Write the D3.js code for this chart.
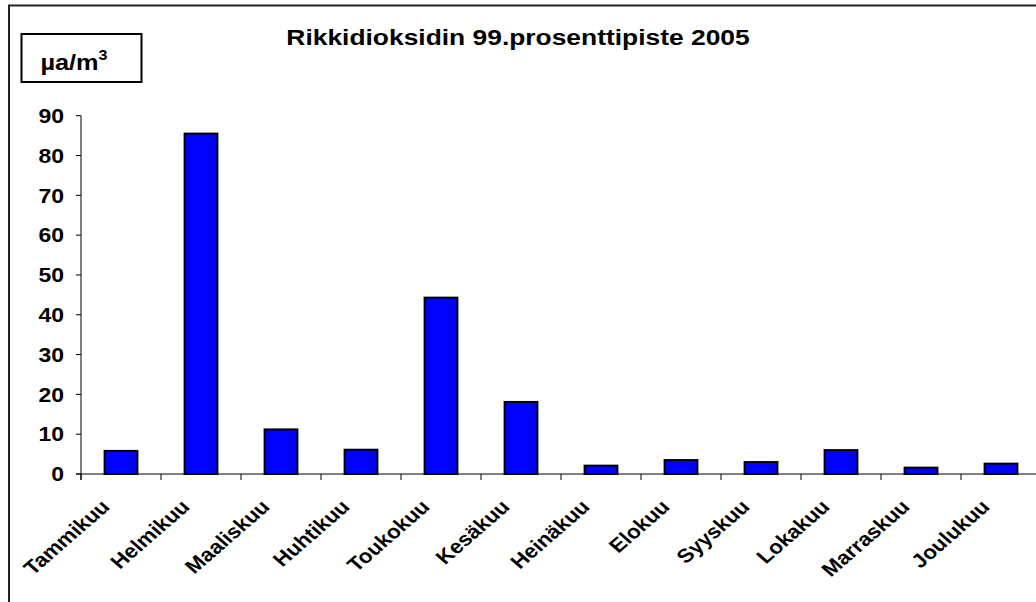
<!DOCTYPE html>
<html><head><meta charset="utf-8">
<script src="https://cdn.jsdelivr.net/npm/d3@7"></script>
<style>
body{margin:0;background:#fff}
text{font-family:Arial,"Liberation Sans",sans-serif;font-weight:bold;fill:#000}
</style>
</head><body>
<svg id="c" width="1036" height="602"></svg>
<script>
const months = ["Tammikuu","Helmikuu","Maaliskuu","Huhtikuu","Toukokuu","Kesäkuu","Heinäkuu","Elokuu","Syyskuu","Lokakuu","Marraskuu","Joulukuu"];
const values = [5.8, 85.5, 11.2, 6.1, 44.3, 18.1, 2.1, 3.5, 3.0, 6.0, 1.6, 2.6];
const yTicks = [0,10,20,30,40,50,60,70,80,90];
const title = "Rikkidioksidin 99.prosenttipiste 2005";
const unitText = "µa/m";
const unitSup = "3";

const svg = d3.select("#c");
svg.append("rect").attr("width",1036).attr("height",602).attr("fill","#fff");
svg.append("rect").attr("x",9).attr("y",5.5).attr("width",1100).attr("height",700)
  .attr("fill","none").attr("stroke","#222").attr("stroke-width",2);

const y = d3.scaleLinear().domain([0,90]).range([474,115.7]);
const x = d3.scaleBand().domain(months).range([81,1041]).padding(0);
const xb = d3.scaleBand().domain(months).range([81,1041]).paddingInner(0.59).paddingOuter(0.295);

svg.append("text").attr("transform",`translate(518,45) scale(1.2,1)`)
  .attr("text-anchor","middle").attr("font-size",22).text(title);

svg.append("rect").attr("x",21.5).attr("y",34).attr("width",120).attr("height",48)
  .attr("fill","#fff").attr("stroke","#000").attr("stroke-width",2);
const ut = svg.append("text").attr("transform",`translate(74,70) scale(1.15,1)`)
  .attr("text-anchor","middle").attr("font-size",22);
ut.append("tspan").text(unitText);
ut.append("tspan").attr("font-size",14).attr("dy",-10).text(unitSup);

const gy = svg.append("g");
gy.append("line").attr("x1",81).attr("x2",81).attr("y1",y(90)).attr("y2",y(0)+6).attr("stroke","#000");
gy.selectAll("line.t").data(yTicks).join("line").attr("class","t")
  .attr("x1",76).attr("x2",81).attr("y1",d=>y(d)).attr("y2",d=>y(d)).attr("stroke","#000");
gy.selectAll("text").data(yTicks).join("text")
  .attr("transform",d=>`translate(64,${y(d)}) scale(1.15,1)`)
  .attr("text-anchor","end").attr("dy","0.36em").attr("font-size",20).text(d=>d);

svg.selectAll("rect.bar").data(values).join("rect").attr("class","bar")
  .attr("x",(d,i)=>xb(months[i])).attr("width",xb.bandwidth())
  .attr("y",d=>y(d)).attr("height",d=>y(0)-y(d))
  .attr("fill","#0000ff").attr("stroke","#000").attr("stroke-width",2);

svg.append("line").attr("x1",76).attr("x2",1041).attr("y1",y(0)).attr("y2",y(0)).attr("stroke","#000");
svg.selectAll("line.xt").data(months).join("line").attr("class","xt")
  .attr("x1",d=>x(d)).attr("x2",d=>x(d)).attr("y1",y(0)).attr("y2",y(0)+6).attr("stroke","#000");
svg.selectAll("text.xl").data(months).join("text").attr("class","xl")
  .attr("transform",d=>`translate(${x(d)+x.bandwidth()/2-10},508) scale(1.15,1) rotate(-45)`)
  .attr("text-anchor","end").attr("font-size",19.5).text(d=>d);
</script>
</body></html>
